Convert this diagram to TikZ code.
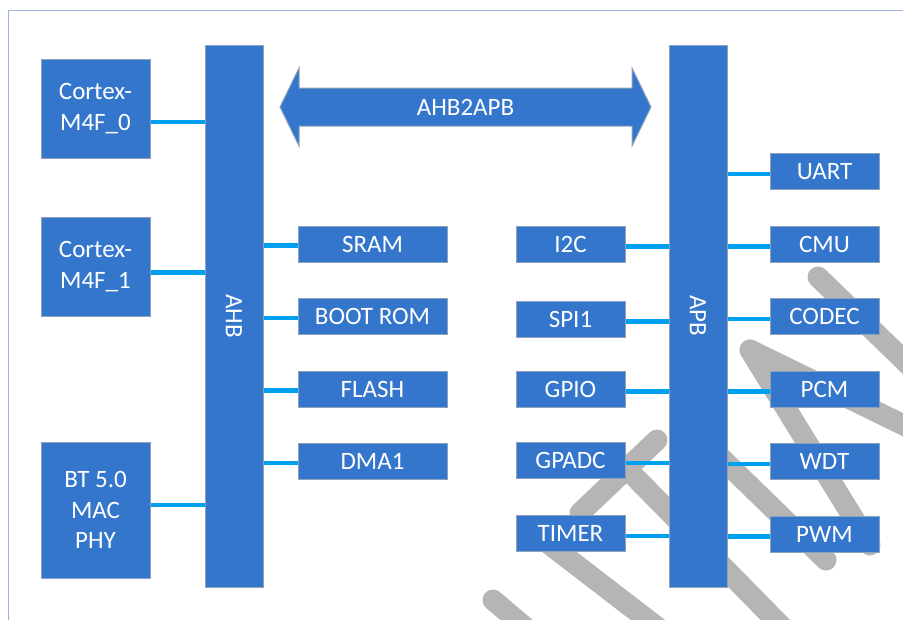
\documentclass[tikz,border=0pt]{standalone}
\usepackage{fontspec}
\setmainfont{Carlito}
\usepackage{xcolor}
\usepackage{tikz}
\usetikzlibrary{positioning}
\definecolor{BlockBlue}{HTML}{3476CC}
\definecolor{BlockEdge}{HTML}{8FA2BC}
\definecolor{LinkBlue}{HTML}{00A0F0}
\definecolor{FrameBlue}{HTML}{9DB3DE}
\definecolor{WaterGray}{HTML}{B5B5B5}
\newcommand{\blockfont}{\fontsize{25}{30.5}\selectfont}
\tikzset{
  block/.style={draw=BlockEdge,fill=BlockBlue,text=white,font=\blockfont,
              align=center,inner sep=0pt,line width=1pt},
  cpubox/.style={block,minimum width=109pt,minimum height=99pt},
  membox/.style={block,minimum width=149pt,minimum height=36pt},
  periph/.style={block,minimum width=109pt,minimum height=36pt},
  busbar/.style={block,minimum width=58pt,minimum height=542pt},
  link/.style={draw=LinkBlue,line width=4.5pt},
  wmark/.style={draw=WaterGray,line width=21pt,line cap=round}
}

\begin{document}
\begin{tikzpicture}[x=1pt,y=-1pt,node distance=35.5pt]
  \clip (0,0) rectangle (903,619);
  \fill[white] (0,0) rectangle (903,619);
  \draw[FrameBlue,line width=0.8pt] (8.5,10) rectangle (920,640);
  % watermark strokes
  \draw[wmark] (818,277) -- (920,376);
  \draw[wmark] (750,350) -- (870,545);
  \draw[wmark] (750,350) -- (920,433);
  \draw[wmark] (715,452) -- (826,560);
  \draw[wmark] (657,440) -- (580,513);
  \draw[wmark] (630,472) -- (790,635);
  \draw[wmark] (540,537) -- (670,637);
  \draw[wmark] (493,600) -- (540,640);
  % masters
  \node[cpubox] (cpu0) at (95.5,108.5) {Cortex-\\M4F\_0};
  \node[cpubox] (cpu1) at (95.5,266.5) {Cortex-\\M4F\_1};
  \node[cpubox,minimum height=136pt] (bt) at (95.5,510) {BT 5.0\\MAC\\PHY};
  % buses
  \node[busbar] (ahb) at (234,316) {};
  \node[rotate=-90,text=white,font=\blockfont] (ahblabel) at (ahb.center) {AHB};
  \node[busbar] (apb) at (698,316) {};
  \node[rotate=-90,text=white,font=\blockfont] (apblabel) at (apb.center) {APB};
  % bridge
  \fill[BlockBlue,draw=BlockEdge,line width=1pt]
    (280,107) -- (299,68) -- (299,88) -- (632,88) -- (632,68) -- (651,107)
    -- (632,146) -- (632,126) -- (299,126) -- (299,146) -- cycle;
  \node[text=white,font=\blockfont] (bridge) at (465.5,107) {AHB2APB};
  % AHB slaves
  \node[membox] (sram) at (372.5,244) {SRAM};
  \node[membox,below=of sram] (rom) {BOOT ROM};
  \node[membox,below=of rom] (flash) {FLASH};
  \node[membox,below=of flash] (dma) {DMA1};
  % APB slaves, left
  \node[periph] (i2c) at (570.5,244) {I2C};
  \node[periph] (spi) at (570.5,319) {SPI1};
  \node[periph] (gpio) at (570.5,389) {GPIO};
  \node[periph] (adc) at (570.5,460.5) {GPADC};
  \node[periph] (timer) at (570.5,533.5) {TIMER};
  % APB slaves, right
  \node[periph] (uart) at (824.5,171.5) {UART};
  \node[periph,below=of uart] (cmu) {CMU};
  \node[periph,below=of cmu] (codec) {CODEC};
  \node[periph,below=of codec] (pcm) {PCM};
  \node[periph,below=of pcm] (wdt) {WDT};
  \node[periph,below=of wdt] (pwm) {PWM};
  % links
  \draw[link] ([yshift=-13.5pt]cpu0.east) -- ([yshift=-13.5pt]cpu0.east -| ahb.west);
  \draw[link] ([yshift=-6pt]cpu1.east) -- ([yshift=-6pt]cpu1.east -| ahb.west);
  \draw[link] ([yshift=5pt]bt.east) -- ([yshift=5pt]bt.east -| ahb.west);
  \foreach \s in {sram,rom,flash,dma}
    \draw[link] ([yshift=-1.5pt]\s.west) -- ([yshift=-1.5pt]\s.west -| ahb.east);
  \foreach \s in {i2c,spi,gpio,adc,timer}
    \draw[link] ([yshift=-2.5pt]\s.east) -- ([yshift=-2.5pt]\s.east -| apb.west);
  \foreach \s in {uart,cmu,codec,pcm,wdt,pwm}
    \draw[link] ([yshift=-2.5pt]\s.west) -- ([yshift=-2.5pt]\s.west -| apb.east);
\end{tikzpicture}
\end{document}
